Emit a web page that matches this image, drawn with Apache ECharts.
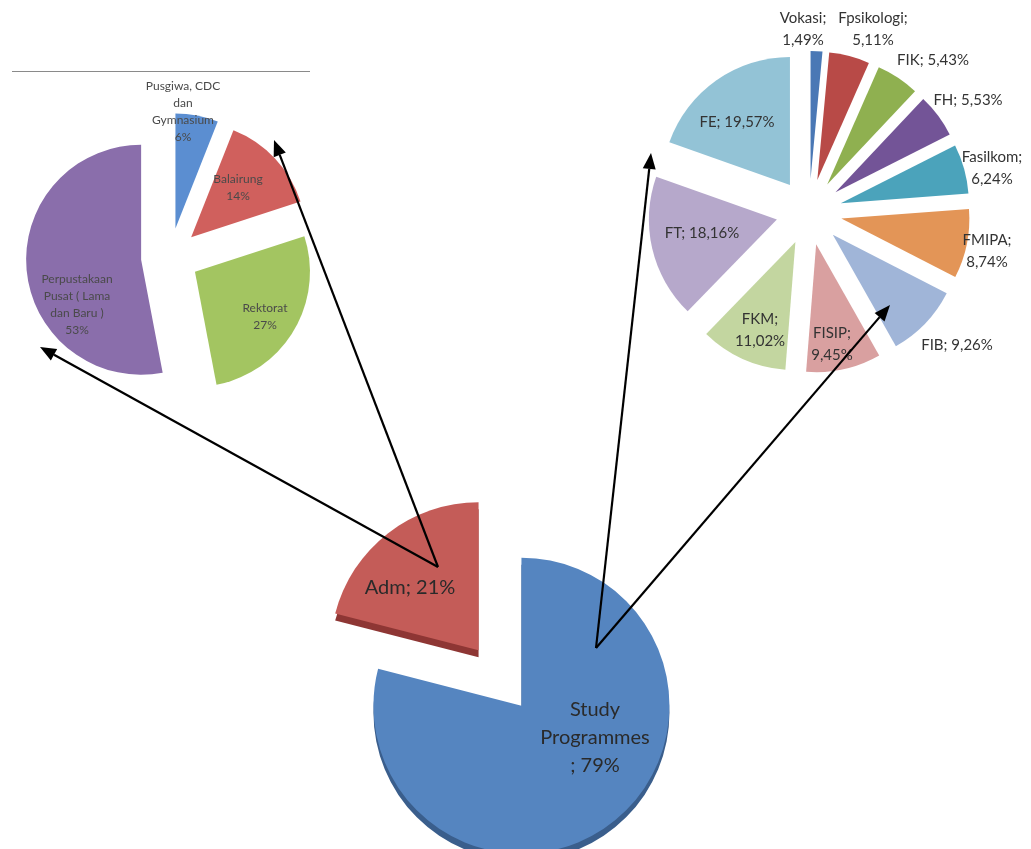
<!DOCTYPE html>
<html>
<head>
<meta charset="utf-8">
<script src="https://cdn.jsdelivr.net/npm/echarts@6/dist/echarts.min.js"></script>
<style>
  html, body { margin: 0; padding: 0; background: #ffffff; }
  #chart { width: 1031px; height: 849px; }
</style>
</head>
<body>
<div id="chart"></div>
<script>
// Administrative units (share of space, %)
const admUnits = ['Pusgiwa, CDC\ndan\nGymnasium', 'Balairung', 'Rektorat', 'Perpustakaan\nPusat ( Lama\ndan Baru )'];
const admValues = [6, 14, 27, 53];

// Faculties / study programmes (share, %)
const faculties = ['Vokasi', 'Fpsikologi', 'FIK', 'FH', 'Fasilkom', 'FMIPA', 'FIB', 'FISIP', 'FKM', 'FT', 'FE'];
const facultyValues = [1.49, 5.11, 5.43, 5.53, 6.24, 8.74, 9.26, 9.45, 11.02, 18.16, 19.57];

// Overall split
const groups = ['Adm', 'Study Programmes'];
const groupValues = [21, 79];

// ---- styling / layout ----
const FONT = 'Lato, "Open Sans", sans-serif';
const admColors = ['#5b8ed1', '#d0605d', '#a3c561', '#8a6eab'];
const facultyColors = ['#4a78b5', '#b84a47', '#8fb050', '#735497', '#4ba3bb', '#e39557',
                       '#a0b5d8', '#d9a0a0', '#c3d6a0', '#b6a8cb', '#93c3d6'];
const groupColors = ['#c45c58', '#5585c0'];
const groupSideColors = ['#8e3634', '#3a5e8c'];

const admLabelPos = [[183, 112], [238, 188], [265, 317], [77, 305]];
const facultyLabelPos = [[803, 29], [873, 29], [933, 60], [968, 100], [992, 168], [987, 251],
                         [957, 345], [832, 344], [760, 330], [702, 233], [737, 122]];
const facultyWrap = [true, true, false, false, true, true, false, true, true, false, false];
const groupLabelPos = [[410, 588], [595, 738]];

const comma = v => v.toFixed(2).replace('.', ',');

const admLabels = admUnits.map((n, i) => n + '\n' + admValues[i] + '%');
const facultyLabels = faculties.map((n, i) => n + ';' + (facultyWrap[i] ? '\n' : ' ') + comma(facultyValues[i]) + '%');
const groupLabels = groups.map((n, i) => i === 1
  ? n.replace(' ', '\n') + '\n; ' + groupValues[i] + '%'
  : n + '; ' + groupValues[i] + '%');

function textEls(texts, pos, size, lineHeight, color) {
  return texts.map((t, i) => ({
    type: 'text', z: 50, silent: true,
    x: pos[i][0], y: pos[i][1],
    style: {
      text: t, align: 'center', verticalAlign: 'middle',
      fontSize: size, lineHeight: lineHeight, fontFamily: FONT, fill: color
    }
  }));
}

function items(names, values, colors) {
  return names.map((n, i) => ({ name: n, value: values[i], selected: true, itemStyle: { color: colors[i] } }));
}

// arrows from the overall pie to the detail pies
const arrows = [
  [[438, 567], [40, 347]],
  [[438, 567], [274, 140]],
  [[596, 648], [651, 153]],
  [[596, 648], [890, 305]]
];
const arrowGraphics = [];
arrows.forEach(([a, b]) => {
  const dx = b[0] - a[0], dy = b[1] - a[1];
  const len = Math.hypot(dx, dy), ux = dx / len, uy = dy / len;
  const headL = 16, headW = 6.5;
  const bx = b[0] - ux * headL, by = b[1] - uy * headL;
  arrowGraphics.push({
    type: 'line', z: 100, silent: true,
    shape: { x1: a[0], y1: a[1], x2: bx, y2: by },
    style: { stroke: '#000', lineWidth: 2.2 }
  });
  arrowGraphics.push({
    type: 'polygon', z: 100, silent: true,
    shape: { points: [[b[0], b[1]], [bx - uy * headW, by + ux * headW], [bx + uy * headW, by - ux * headW]] },
    style: { fill: '#000' }
  });
});

const chart = echarts.init(document.getElementById('chart'));
chart.setOption({
  backgroundColor: '#ffffff',
  animation: false,
  textStyle: { fontFamily: FONT },
  graphic: [
    { type: 'line', silent: true, shape: { x1: 12, y1: 71.5, x2: 310, y2: 71.5 }, style: { stroke: '#8a8a8a', lineWidth: 1 } }
  ].concat(
    textEls(admLabels, admLabelPos, 12, 17, '#4a4a4a'),
    textEls(facultyLabels, facultyLabelPos, 15, 22, '#333333'),
    textEls(groupLabels, groupLabelPos, 20, 28, '#2a2a2a'),
    arrowGraphics
  ),
  series: [
    {
      type: 'pie', name: 'adm-detail', silent: true,
      center: [170, 257], radius: 115,
      selectedMode: 'multiple', selectedOffset: 29,
      startAngle: 90, clockwise: true,
      label: { show: false }, labelLine: { show: false },
      data: items(admUnits, admValues, admColors)
    },
    {
      type: 'pie', name: 'faculty-detail', silent: true,
      center: [809, 212], radius: 128,
      selectedMode: 'multiple', selectedOffset: 33,
      startAngle: 90, clockwise: true,
      label: { show: false }, labelLine: { show: false },
      data: items(faculties, facultyValues, facultyColors)
    },
    {
      // side wall of the tilted overall pie
      type: 'pie', name: 'overall-side', silent: true, z: 1,
      center: [500, 685], radius: 148,
      selectedMode: 'multiple', selectedOffset: 35,
      startAngle: 165.6, clockwise: true,
      label: { show: false }, labelLine: { show: false },
      data: items(groups, groupValues, groupSideColors)
    },
    {
      type: 'pie', name: 'overall', silent: true, z: 2,
      center: [500, 678], radius: 148,
      selectedMode: 'multiple', selectedOffset: 35,
      startAngle: 165.6, clockwise: true,
      label: { show: false }, labelLine: { show: false },
      data: items(groups, groupValues, groupColors)
    }
  ]
});
</script>
</body>
</html>
